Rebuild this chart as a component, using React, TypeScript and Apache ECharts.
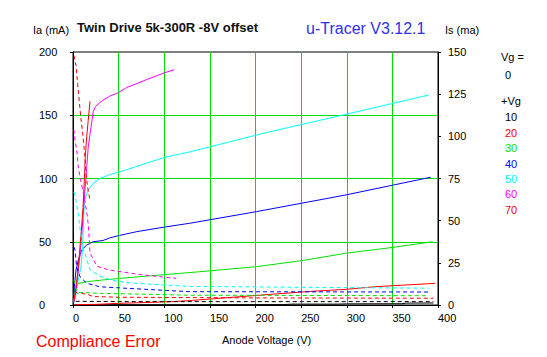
import React, { useEffect, useRef } from "react";
import * as echarts from "echarts";

// Anode voltage axis ticks (V), Ia axis (mA), Is axis (mA)
const xTicks = [0, 50, 100, 150, 200, 250, 300, 350, 400];
const iaTicks = [0, 50, 100, 150, 200];
const isTicks = [0, 25, 50, 75, 100, 125, 150];

const legendVg = ["10", "20", "30", "40", "50", "60", "70"];
const legendColors = ["#000000", "#ff0000", "#00e000", "#0000ff", "#00ffff", "#ff00ff", "#ff0000"];

// Ia curves [V, mA] (solid, left axis)
const ia10 = [[2, 0.2], [100, 0.2], [230, 0.3], [240, 0.7], [290, 0.7], [300, 0.9], [360, 1.0], [365, 1.5], [395, 1.6]];
const ia20 = [[2, 0.3], [25, 0.5], [50, 1.3], [80, 2.0], [110, 2.7], [128, 3.5], [146, 4.5], [182, 6.5], [218, 8.5], [255, 10.5], [299, 12.4], [332, 14.5], [364, 15.8], [397, 17.1]];
const ia30 = [[0.5, 3], [1.5, 10], [2.2, 14.5], [5.8, 17], [15, 18.4], [33, 19.8], [51, 21], [73, 22.4], [95, 23.7], [117, 25], [139, 26.3], [201, 30.3], [250, 35], [299, 40.9], [350, 45.5], [394, 50]];
const ia40 = [[0.5, 5], [1.5, 15], [3.3, 27.7], [5.8, 35.6], [9.5, 43.5], [15, 47.4], [22, 50], [33, 51], [40, 53], [51, 55], [70, 58], [95, 61], [113, 63], [128, 64.6], [201, 73.8], [299, 87], [392, 101]];
const ia50 = [[1, 2], [3, 7], [5, 17], [8.7, 30], [10.5, 45], [11.5, 65], [12.5, 83], [16.7, 91], [22, 96], [29.5, 100], [40, 103], [59, 107], [80, 112], [102, 117], [128, 121], [210, 136], [299, 150.7], [390, 166]];
const ia60 = [[1, 2], [3, 10], [5, 22], [7, 35], [9, 50], [11, 70], [13, 90], [15, 108], [16.7, 125], [20.4, 144], [22.2, 153], [24.7, 157], [31, 161], [40, 165], [50, 168], [59, 172], [70, 175], [80, 178], [91, 181], [102, 184], [111, 186]];
const ia70 = [[1, 3], [3, 12], [5, 25], [7, 40], [9, 58], [11, 77], [12.5, 100], [13.5, 118], [15, 133], [16.7, 146], [18.6, 161]];

// Is curves [V, mA] (dashed, right axis)
const is10 = [[3, 2.2], [50, 2.0], [200, 2.0], [395, 2.0]];
const is20 = [[2, 8], [5, 7], [15, 6.5], [22, 5], [50, 4.6], [200, 4.2], [395, 4.0]];
const is30 = [[1, 15], [3, 10], [6, 7.5], [30, 6.9], [70, 6.5], [128, 5.8], [390, 5.5]];
const is40 = [[1, 34.5], [2.2, 32.6], [4, 22.7], [7.7, 16.8], [15, 12.9], [29.5, 10.8], [59, 9.9], [128, 7.9], [392, 7.7]];
const is50 = [[1, 67], [2.2, 65], [3.9, 60], [5.7, 54], [7.5, 46], [11, 34], [18.6, 21], [29.5, 17], [44, 14.5], [64, 13], [128, 11], [250, 10.5], [390, 10]];
const is60 = [[1, 104], [2.2, 98], [4, 92], [5.8, 82], [7.7, 76], [10, 70], [13, 62], [15, 55], [16.7, 48], [18.6, 31], [26, 23], [40, 20.7], [77, 17.8], [113, 15.8]];
const is70 = [[1, 148], [3.3, 142], [5.8, 127], [8.4, 112], [10.6, 102], [12, 94], [13.1, 88], [14.2, 78], [16, 70], [18.6, 62]];

const iaSeries = [ia10, ia20, ia30, ia40, ia50, ia60, ia70];
const isSeries = [is10, is20, is30, is40, is50, is60, is70];

const FONT = "Liberation Sans";
const GRIDGREEN = "#00e000";

export default function App() {
  const ref = useRef<HTMLDivElement>(null);
  useEffect(() => {
    if (!ref.current) return;
    const chart = echarts.init(ref.current, null, { renderer: "svg" });
    const series: any[] = [];
    iaSeries.forEach((d, i) => {
      series.push({
        type: "line",
        data: d,
        xAxisIndex: 0,
        yAxisIndex: 0,
        showSymbol: false,
        symbol: "none",
        lineStyle: { color: legendColors[i], width: 1 },
        z: 3,
      });
    });
    isSeries.forEach((d, i) => {
      series.push({
        type: "line",
        data: d,
        xAxisIndex: 0,
        yAxisIndex: 1,
        showSymbol: false,
        symbol: "none",
        lineStyle: { color: legendColors[i], width: 1, type: [4, 3] },
        z: 3,
      });
    });

    const legendY = [118, 133.5, 149, 164.5, 179.5, 195, 210.5];
    const graphics: any[] = [
      { type: "text", left: 33, top: 24, style: { text: "Ia (mA)", font: `11px "${FONT}"`, fill: "#000" } },
      { type: "text", left: 77, top: 21, style: { text: "Twin Drive 5k-300R -8V offset", font: `bold 13px "${FONT}"`, fill: "#111" } },
      { type: "text", left: 306, top: 20, style: { text: "u-Tracer V3.12.1", font: `16px "${FONT}"`, fill: "#3030f0" } },
      { type: "text", left: 445, top: 24, style: { text: "Is (ma)", font: `11px "${FONT}"`, fill: "#000" } },
      { type: "text", left: 501, top: 51, style: { text: "Vg =", font: `11px "${FONT}"`, fill: "#000" } },
      { type: "text", left: 505, top: 69, style: { text: "0", font: `11px "${FONT}"`, fill: "#000" } },
      { type: "text", left: 501, top: 95, style: { text: "+Vg", font: `11px "${FONT}"`, fill: "#000" } },
      { type: "text", left: 36, top: 333, style: { text: "Compliance Error", font: `16px "${FONT}"`, fill: "#ff0000" } },
      { type: "text", left: 222, top: 334, style: { text: "Anode Voltage (V)", font: `11px "${FONT}"`, fill: "#000" } },
    ];
    legendVg.forEach((t, i) => {
      graphics.push({
        type: "text",
        left: 505,
        top: legendY[i] - 6.5,
        style: { text: t, font: `11px "${FONT}"`, fill: legendColors[i] },
      });
    });

    chart.setOption({
      animation: false,
      backgroundColor: "#ffffff",
      textStyle: { fontFamily: FONT },
      grid: {
        left: 73,
        top: 52,
        width: 365,
        height: 253,
        show: true,
        borderColor: "#000",
        borderWidth: 1,
        backgroundColor: "transparent",
      },
      xAxis: {
        type: "value",
        min: xTicks[0],
        max: xTicks[xTicks.length - 1],
        interval: 50,
        position: "bottom",
        axisLine: { show: true, lineStyle: { color: "#000", width: 1 } },
        axisTick: { show: true, length: 3, lineStyle: { color: "#000" } },
        axisLabel: { color: "#000", fontSize: 11, fontFamily: FONT, margin: 7, align: "left", showMinLabel: true, showMaxLabel: true },
        splitLine: { show: true, showMinLine: false, showMaxLine: false, lineStyle: { color: GRIDGREEN, width: 1 } },
      },
      yAxis: [
        {
          type: "value",
          min: iaTicks[0],
          max: iaTicks[iaTicks.length - 1],
          interval: 50,
          position: "left",
          axisLine: { show: true, lineStyle: { color: "#000", width: 1 } },
          axisTick: { show: true, length: 3, lineStyle: { color: "#000" } },
          axisLabel: { color: "#000", fontSize: 11, fontFamily: FONT, margin: 34, align: "left" },
          splitLine: { show: true, showMinLine: false, showMaxLine: false, lineStyle: { color: GRIDGREEN, width: 1 } },
        },
        {
          type: "value",
          min: isTicks[0],
          max: isTicks[isTicks.length - 1],
          interval: 25,
          position: "right",
          axisLine: { show: true, lineStyle: { color: "#000", width: 1 } },
          axisTick: { show: true, length: 3, lineStyle: { color: "#000" } },
          axisLabel: { color: "#000", fontSize: 11, fontFamily: FONT, margin: 10, align: "left" },
          splitLine: { show: false },
        },
      ],
      series,
      graphic: graphics,
    });
    return () => chart.dispose();
  }, []);
  return (
    <div
      ref={ref}
      style={{ position: "fixed", left: 0, top: 0, width: 547, height: 357, background: "#fff" }}
    />
  );
}
